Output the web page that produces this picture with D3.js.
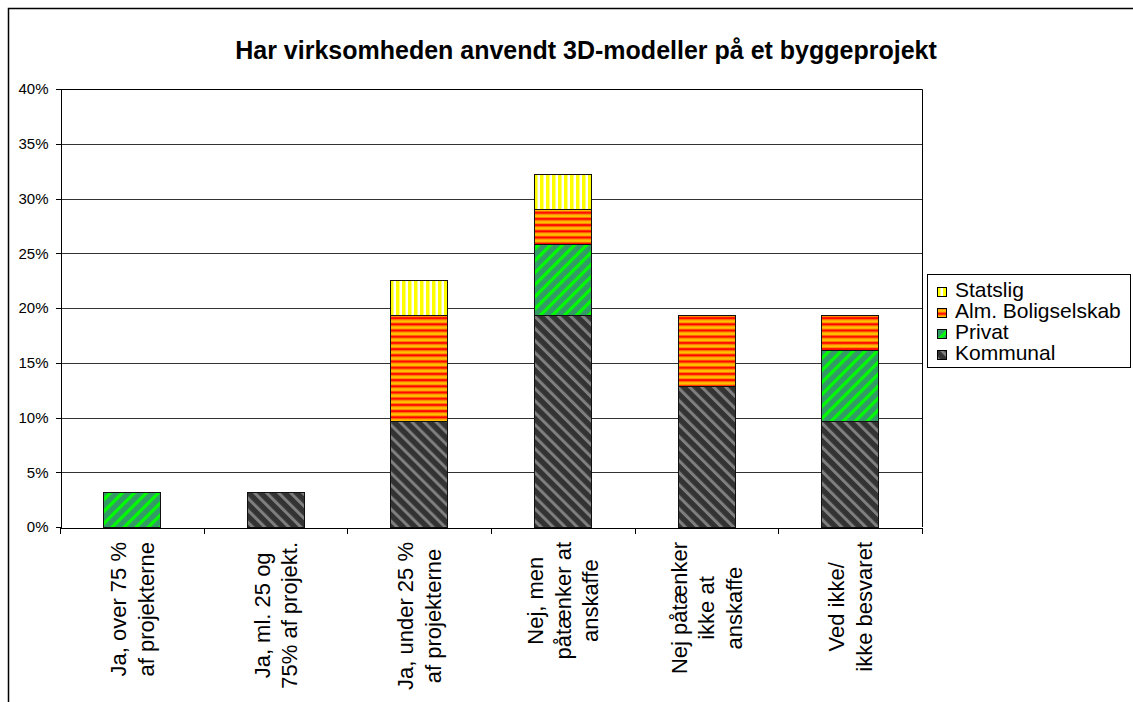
<!DOCTYPE html>
<html>
<head>
    <meta charset="utf-8">
    <title>Har virksomheden anvendt 3D-modeller på et byggeprojekt</title>
    <script src='https://d3js.org/d3.v7.min.js'></script>
    <style>
        html, body {margin: 0; padding: 0; background: white;}
        svg {display: block; font-family: 'Liberation Sans', Arial, sans-serif;}
        .grid line {stroke: #333333; stroke-width: 1;}
        .axis path, .axis line {stroke: black; shape-rendering: crispEdges;}
        .axis text {font-size: 15px; fill: black;}
    </style>
</head>
<body>
<div id="vis"></div>
<script>

// answer categories (lines of each axis label)
var categories = [
    ["Ja, over 75 %", "af projekterne"],
    ["Ja, ml. 25 og", "75% af projekt."],
    ["Ja, under 25 %", "af projekterne"],
    ["Nej, men", "påtænker at", "anskaffe"],
    ["Nej påtænker", "ikke at", "anskaffe"],
    ["Ved ikke/", "ikke besvaret"]
];
// share of respondents, in %
var kommunal = [0, 3.23, 9.68, 19.35, 12.90, 9.68];
var privat   = [3.23, 0, 0, 6.45, 0, 6.45];
var alm      = [0, 0, 9.68, 3.23, 6.45, 3.23];
var statslig = [0, 0, 3.23, 3.23, 0, 0];
var seriesNames = ["Kommunal", "Privat", "Alm. Boligselskab", "Statslig"];
var yTicks = [0, 5, 10, 15, 20, 25, 30, 35, 40];

var width = 1133, height = 702;
var margin = {top: 89, bottom: 175, left: 60, right: 212};

var svg = d3.select('#vis').append('svg')
    .attr('width', width)
    .attr('height', height);

// hatch patterns like the excel fills
var defs = svg.append('defs');
function stripes(id, bg, fg, w, size, angle) {
    var p = defs.append('pattern').attr('id', id)
        .attr('patternUnits', 'userSpaceOnUse')
        .attr('width', size).attr('height', size)
        .attr('patternTransform', 'rotate(' + angle + ')');
    p.append('rect').attr('width', size).attr('height', size).attr('fill', bg);
    p.append('rect').attr('width', w).attr('height', size).attr('fill', fg);
}
stripes('pat-kommunal', '#333333', '#7f7f7f', 3, 8.5, -45);
stripes('pat-privat', '#339966', '#00ff00', 3.2, 8.5, 45);
stripes('pat-statslig', '#ffffff', '#ffff00', 3.5, 6, 0);
var pa = defs.append('pattern').attr('id', 'pat-alm')
    .attr('patternUnits', 'userSpaceOnUse').attr('width', 6).attr('height', 6.2);
pa.append('rect').attr('width', 6).attr('height', 6.2).attr('fill', '#ffc000');
pa.append('rect').attr('y', 0).attr('width', 6).attr('height', 1).attr('fill', '#ff8000');
pa.append('rect').attr('y', 1).attr('width', 6).attr('height', 2.2).attr('fill', '#ff0000');
pa.append('rect').attr('y', 3.2).attr('width', 6).attr('height', 0.8).attr('fill', '#ff8000');
var fills = {"Kommunal": "url(#pat-kommunal)", "Privat": "url(#pat-privat)",
    "Alm. Boligselskab": "url(#pat-alm)", "Statslig": "url(#pat-statslig)"};

// chart border
svg.append('rect')
    .attr('x', 8.5).attr('y', 8.5)
    .attr('width', 1140).attr('height', 710)
    .attr('fill', 'none').attr('stroke', 'black').attr('stroke-width', 1.5);

svg.append('text')
    .attr('x', 586).attr('y', 59)
    .attr('text-anchor', 'middle')
    .style('font-size', '25px').style('font-weight', 'bold')
    .text('Har virksomheden anvendt 3D-modeller på et byggeprojekt');

var x0 = margin.left, x1 = width - margin.right + 1;
var y_scale = d3.scaleLinear().domain([0, 40]).range([height - margin.bottom, margin.top]);
var x_scale = d3.scaleBand().domain(d3.range(categories.length)).range([x0, x1])
    .paddingInner(0.6).paddingOuter(0.3);
var x_ticks = d3.scaleLinear().domain([0, categories.length]).range([x0, x1]);

// gridlines
svg.append('g').attr('class', 'grid')
    .selectAll('line').data(yTicks.slice(1)).enter().append('line')
    .attr('x1', x0).attr('x2', x1)
    .attr('y1', function(d) {return Math.round(y_scale(d)) + 0.5;})
    .attr('y2', function(d) {return Math.round(y_scale(d)) + 0.5;});
// plot area right / top edge
svg.append('path')
    .attr('d', 'M' + x0 + ',' + (Math.round(y_scale(40)) + 0.5) + 'H' + (x1 + 0.5) + 'V' + y_scale(0))
    .attr('fill', 'none').attr('stroke', 'black');

// stacked bars
var table = categories.map(function(c, i) {
    return {"Kommunal": kommunal[i], "Privat": privat[i], "Alm. Boligselskab": alm[i], "Statslig": statslig[i], idx: i};
});
var stacked = d3.stack().keys(seriesNames)(table);
svg.append('g').selectAll('g').data(stacked).enter().append('g')
    .attr('fill', function(d) {return fills[d.key];})
    .selectAll('rect').data(function(d) {return d.filter(function(e) {return e[1] - e[0] > 0;});})
    .enter().append('rect')
    .attr('x', function(d) {return Math.round(x_scale(d.data.idx)) + 0.5;})
    .attr('y', function(d) {return Math.round(y_scale(d[1])) + 0.5;})
    .attr('width', Math.round(x_scale.bandwidth()))
    .attr('height', function(d) {return Math.round(y_scale(d[0])) - Math.round(y_scale(d[1]));})
    .attr('stroke', '#111').attr('stroke-width', 1);

// axes
svg.append('g').attr('class', 'axis')
    .attr('transform', 'translate(' + (x0 + 0.5) + ',0)')
    .call(d3.axisLeft(y_scale).tickValues(yTicks).tickSize(5).tickPadding(7)
        .tickFormat(function(d) {return d + '%';}));
var xa = svg.append('g').attr('class', 'axis')
    .attr('transform', 'translate(0,' + (Math.round(y_scale(0)) + 0.5) + ')')
    .call(d3.axisBottom(x_ticks).ticks(categories.length).tickSize(6).tickSizeOuter(0).tickFormat(''));

// rotated, multi line category labels
var lineGap = 27.5, labelSize = 22;
categories.forEach(function(lines, i) {
    var cx = x_scale(i) + x_scale.bandwidth() / 2;
    var g = svg.append('g');
    var texts = lines.map(function(l, j) {
        return g.append('text')
            .attr('text-anchor', 'middle')
            .style('font-size', labelSize + 'px')
            .text(l);
    });
    var maxLen = d3.max(texts, function(t) {return t.node().getComputedTextLength();});
    var cy = 542 + maxLen / 2;
    texts.forEach(function(t, j) {
        var lx = cx + (j - (lines.length - 1) / 2) * lineGap + labelSize * 0.36;
        t.attr('transform', 'translate(' + lx + ',' + cy + ') rotate(-90)');
    });
});

// legend
var legend = svg.append('g').attr('transform', 'translate(927,274)');
legend.append('rect').attr('x', 0.5).attr('y', 0.5).attr('width', 203).attr('height', 93)
    .attr('fill', 'white').attr('stroke', 'black');
var items = legend.selectAll('.item').data(seriesNames.slice().reverse()).enter().append('g')
    .attr('transform', function(d, i) {return 'translate(10,' + (23 + i * 21) + ')';});
items.append('rect').attr('x', 0.5).attr('y', -9.5).attr('width', 9).attr('height', 9)
    .attr('fill', function(d) {return fills[d];}).attr('stroke', 'black');
items.append('text').attr('x', 18).attr('y', 0)
    .style('font-size', '21px')
    .text(function(d) {return d;});

</script>
</body>
</html>
